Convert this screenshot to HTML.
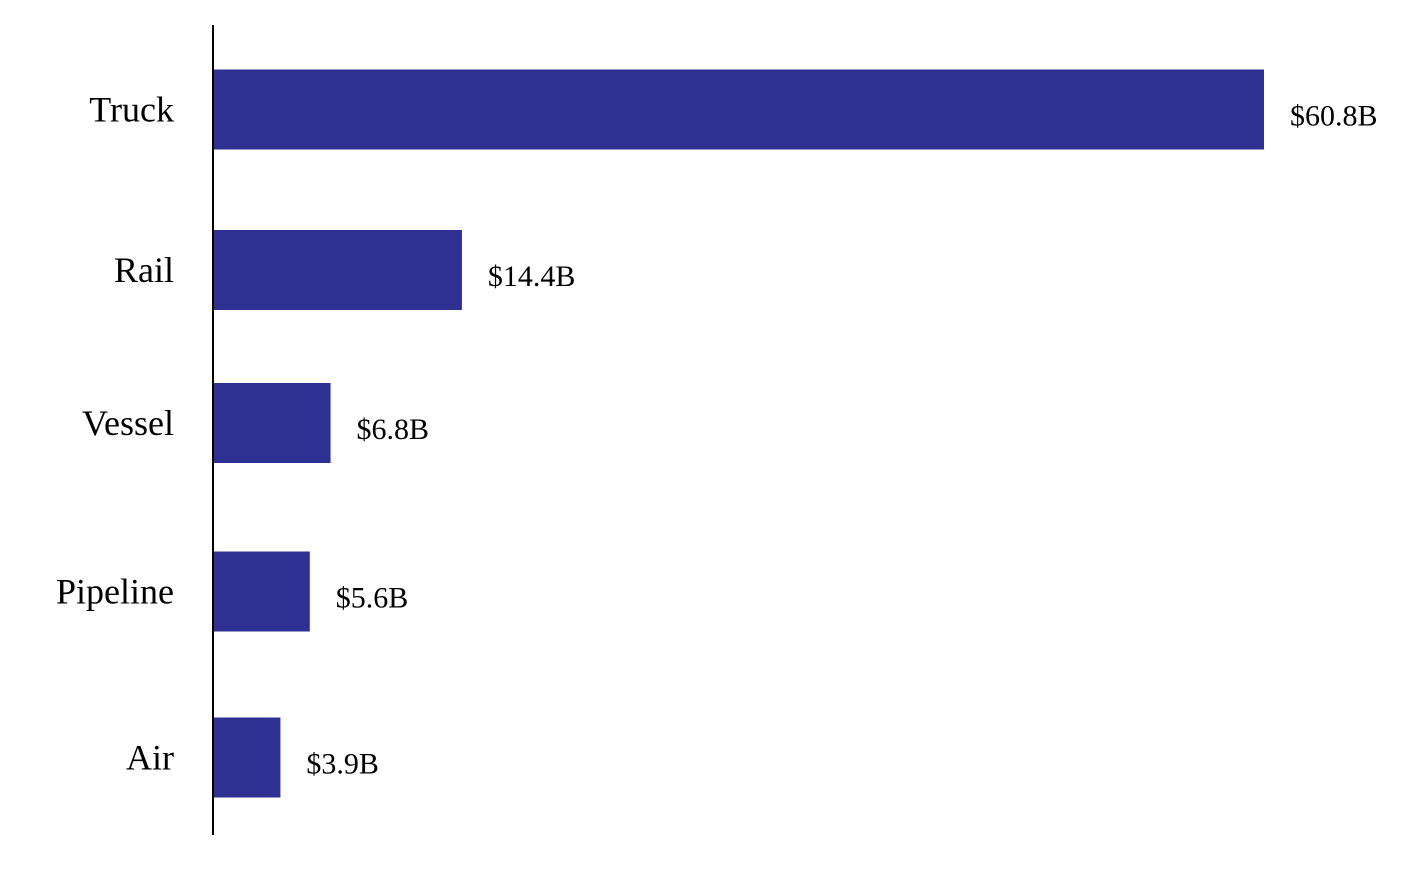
<!DOCTYPE html>
<html><head><meta charset="utf-8"><style>
html,body{margin:0;padding:0;background:#fff;}
svg{display:block;font-family:"Liberation Serif",serif;}
</style></head><body>
<svg id="chart" width="1407" height="895" viewBox="0 0 1407 895" xmlns="http://www.w3.org/2000/svg"></svg>
<script>
const categories = ["Truck","Rail","Vessel","Pipeline","Air"];
const values = [60.8, 14.4, 6.8, 5.6, 3.9];
const valueLabels = ["$60.8B","$14.4B","$6.8B","$5.6B","$3.9B"];

const svg = document.getElementById('chart');
const NS = "http://www.w3.org/2000/svg";
const x0 = 213, xScale = (1264 - 213) / 60.8;
const x = v => x0 + v * xScale;
const rowCenters = [109.5, 270, 423, 591.5, 757.5];
const barH = 80;

const axis = document.createElementNS(NS,'line');


axis.setAttribute('x1',x0);axis.setAttribute('x2',x0);
axis.setAttribute('y1',25);axis.setAttribute('y2',835);
axis.setAttribute('stroke','#000');axis.setAttribute('stroke-width','2');

categories.forEach((c,i)=>{
  const cy = rowCenters[i];
  const r = document.createElementNS(NS,'rect');
  
  
  r.setAttribute('x',x0);r.setAttribute('y',cy-barH/2);
  r.setAttribute('width',x(values[i])-x0);r.setAttribute('height',barH);
  r.setAttribute('fill','#2e3192');
  svg.appendChild(r);
  const t = document.createElementNS(NS,'text');
  
  
  t.setAttribute('x',174);t.setAttribute('y',cy+12);
  t.setAttribute('text-anchor','end');t.setAttribute('font-size','36');
  t.textContent = c;
  svg.appendChild(t);
  const v = document.createElementNS(NS,'text');
  
  
  v.setAttribute('x',x(values[i])+26);v.setAttribute('y',cy+16);
  v.setAttribute('font-size','30');
  v.textContent = valueLabels[i];
  svg.appendChild(v);
});
svg.appendChild(axis);
</script>
</body></html>
